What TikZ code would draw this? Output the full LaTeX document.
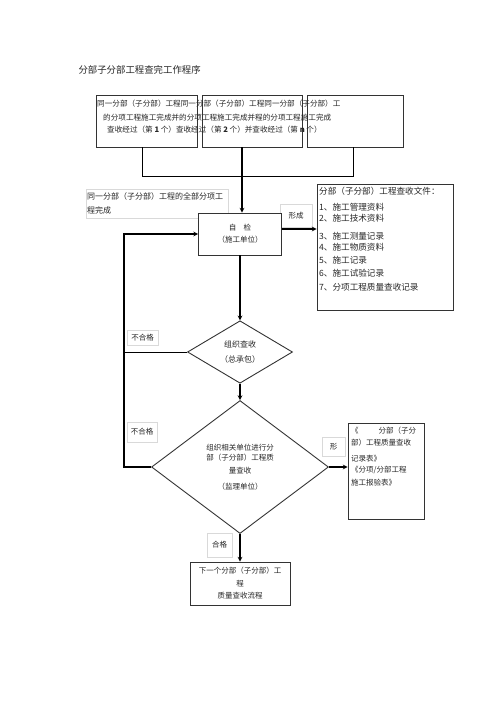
\documentclass[tikz,border=0pt]{standalone}
\usepackage{fontspec}
\setmainfont{Noto Sans CJK SC}
\usetikzlibrary{shapes.geometric,shadows}
\begin{document}
\begin{tikzpicture}[x=1pt,y=-1pt,font=\fontsize{7.5}{10}\selectfont,text=black!85,
    box/.style={draw=black!80, line width=0.8pt, fill=white, inner sep=0pt},
    faint/.style={draw=black!15, line width=0.6pt, fill=white, inner sep=0pt},
    choice/.style={diamond, draw=black!80, line width=0.9pt, fill=white, inner sep=0pt, align=center},
    shade/.style={drop shadow={shadow xshift=1pt, shadow yshift=-1pt, fill=black!60, opacity=1}},
    flow/.style={line width=1.1pt,->,>=stealth},
    link/.style={line width=0.9pt}]
  \useasboundingbox[fill=white] (0,0) rectangle (500,708);
  \node[anchor=west, font=\fontsize{9.4}{11}\selectfont] (title) at (75,70) {分部子分部工程查完工作程序};
  \node[box, fill=none, minimum width=101pt, minimum height=52pt] (top1) at (146.5,121) {};
  \node[box, fill=none, minimum width=100pt, minimum height=52pt] (top2) at (252,121) {};
  \node[box, fill=none, minimum width=96pt, minimum height=52pt] (top3) at (355,121) {};
  \node[anchor=west, inner sep=0pt, font=\fontsize{7.6}{10}\selectfont] (ln1) at (97,104) {同一分部（子分部）工程同一分部（子分部）工程同一分部（子分部）工};
  \node[anchor=west, inner sep=0pt, font=\fontsize{7.6}{10}\selectfont] (ln2) at (103,118) {的分项工程施工完成并的分项工程施工完成并程的分项工程施工完成};
  \node[anchor=west, inner sep=0pt, font=\fontsize{7.6}{10}\selectfont] (ln3) at (107,130) {查收经过（第 \textbf{1} 个）查收经过（第 \textbf{2} 个）并查收经过（第 \textbf{n} 个）};
  \node[faint, minimum width=142pt, minimum height=29pt, text width=140pt, align=left, font=\fontsize{8}{14}\selectfont] (note) at (157,203.5) {同一分部（子分部）工程的全部分项工\\程完成\\[-6pt]};
  \node[faint, minimum width=32pt, minimum height=23pt] (xc) at (296,215.5) {形成};
  \node[box, minimum width=83pt, minimum height=42pt, align=center, font=\fontsize{7.5}{12}\selectfont] (zj) at (240,234) {自\quad 检\\（施工单位）};
  \node[box, shade, minimum width=136pt, minimum height=126pt] (doc1) at (385,247) {};
  \node[anchor=north west, inner sep=0pt, align=left, font=\fontsize{8.6}{11}\selectfont] (doc1txt) at (319,187) {分部（子分部）工程查收文件：\\[5pt]1、施工管理资料\\2、施工技术资料\\[7pt]3、施工测量记录\\4、施工物质资料\\[2pt]5、施工记录\\[2pt]6、施工试验记录\\[3pt]7、分项工程质量查收记录};
  \node[choice, minimum width=105pt, minimum height=59pt, font=\fontsize{8}{15}\selectfont] (d1) at (240,352) {组织查收\\（总承包）};
  \node[choice, minimum width=177pt, minimum height=133pt] (d2) at (240,467) {组织相关单位进行分\\部（子分部）工程质\\[3pt]量查收\\[6pt]（监理单位）};
  \node[faint, minimum width=31pt, minimum height=15pt] (ng1) at (142.5,337.5) {不合格};
  \node[faint, minimum width=30pt, minimum height=20pt] (ng2) at (142,432) {不合格};
  \node[faint, minimum width=25pt, minimum height=24pt] (ok) at (219.5,545) {合格};
  \node[faint, minimum width=23pt, minimum height=19pt] (xing) at (333.5,446.5) {形};
  \node[box, shade, minimum width=76pt, minimum height=96pt] (doc2) at (386,471) {};
  \node[anchor=north west, inner sep=0pt, align=left, font=\fontsize{7.5}{12}\selectfont] (doc2txt) at (351,427) {《\hspace{20pt}分部（子分\\部）工程质量查收\\[4pt]记录表》\\[-1pt]《分项/分部工程\\[1pt]施工报验表》};
  \node[box, minimum width=100pt, minimum height=43pt, align=center, font=\fontsize{7.5}{12.5}\selectfont] (fin) at (240,583.5) {下一个分部（子分部）工\\程\\质量查收流程};
  \coordinate (jl) at (142,176);
  \coordinate (jm) at (242,176);
  \coordinate (jr) at (353,176);
  \coordinate (lp) at (124,300);
  \draw[link] (top1.south -| jl) -- (jl) -- (jr) -- (top3.south -| jr);
  \draw[flow] (top2.south -| jm) -- (zj.north -| jm);
  \draw[flow] ([yshift=5pt]zj.east) -- ([yshift=5pt]zj.east -| doc1.west);
  \draw[flow] (d2.west) -| (lp |- zj.west) -- (zj.west);
  \draw[link] (d1.west) -- (d1.west -| lp);
  \draw[flow] (zj.south) -- (d1.north);
  \draw[flow] (d1.south) -- (d2.north);
  \draw[flow] (d2.south) -- (fin.north);
  \draw[flow] (d2.east) -- (d2.east -| doc2.west);
\end{tikzpicture}
\end{document}
